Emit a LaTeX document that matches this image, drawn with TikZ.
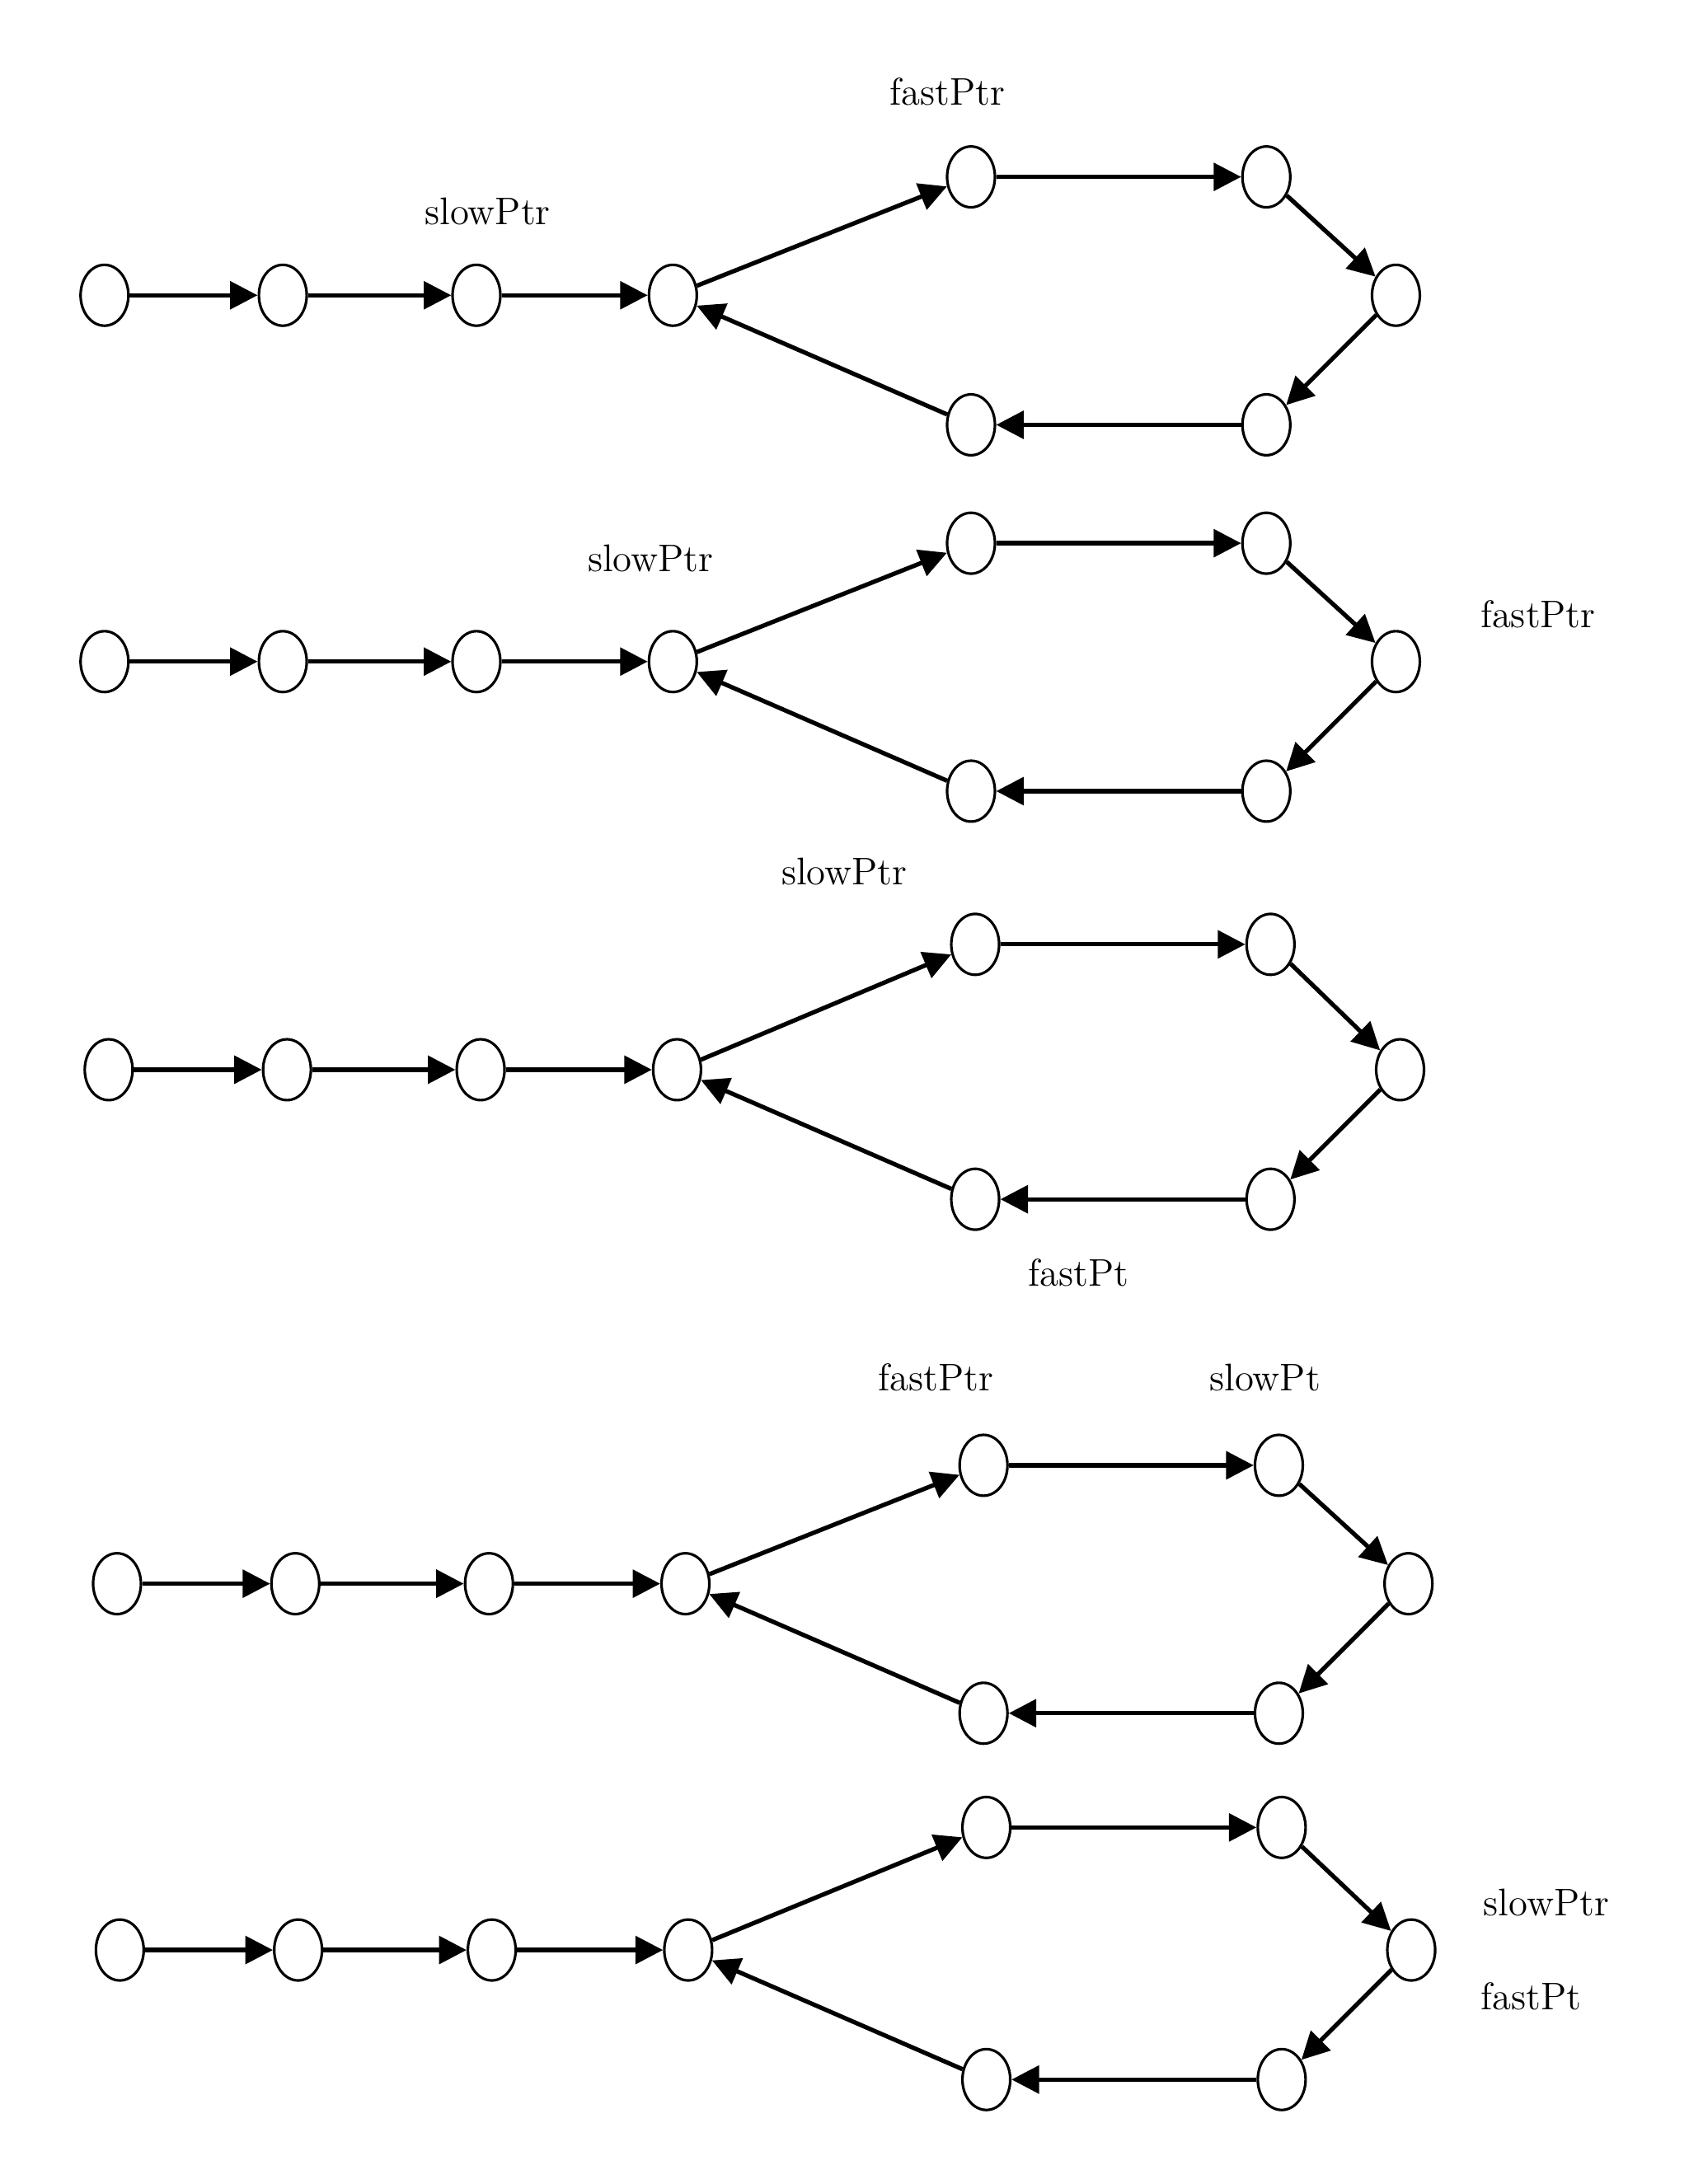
\documentclass[tikz,border=0pt]{standalone}
\usetikzlibrary{arrows.meta,shapes.geometric}
\tikzset{
  nd/.style={draw=black, line width=0.9pt, ellipse, minimum width=16.5pt, minimum height=21pt, inner sep=0pt},
  arr/.style={line width=1.5pt, -{Triangle[length=9.5pt,width=9.5pt]}},
  lab/.style={font=\fontsize{13.3}{16}\selectfont, inner sep=0pt}
}
\newcommand\listrow[4]{%
  \begin{scope}[shift={(#2,#3)}]
    \node[nd] (#1a) at (0,0) {};
    \node[nd] (#1b) at (128,0) {};
    \node[nd] (#1c) at (267,0) {};
    \node[nd] (#1d) at (408,0) {};
    \node[nd] (#1e) at (622,-#4) {};
    \node[nd] (#1f) at (834,-#4) {};
    \node[nd] (#1g) at (927,0) {};
    \node[nd] (#1h) at (834,93) {};
    \node[nd] (#1i) at (622,93) {};
  \end{scope}
  \draw[arr] (#1a) -- (#1b);
  \draw[arr] (#1b) -- (#1c);
  \draw[arr] (#1c) -- (#1d);
  \draw[arr] (#1d) -- (#1e);
  \draw[arr] (#1e) -- (#1f);
  \draw[arr] (#1f) -- (#1g);
  \draw[arr] (#1g) -- (#1h);
  \draw[arr] (#1h) -- (#1i);
  \draw[arr] (#1i) -- (#1d);
}
\begin{document}
\begin{tikzpicture}[x=0.016898cm, y=-0.016898cm]
  \useasboundingbox[fill=white] (0,0) rectangle (1212,1568);
  \listrow{p}{75}{212}{85}
  \listrow{q}{75}{475}{85}
  \listrow{s}{78}{768}{90}
  \listrow{u}{84}{1137}{85}
  \listrow{v}{86}{1400}{88}
  \node[lab] (l1) at (680,66) {fastPtr};
  \node[lab] (l2) at (350,152) {slowPtr};
  \node[lab] (l3) at (467,401) {slowPtr};
  \node[lab] (l4) at (1104,441) {fastPtr};
  \node[lab] (l5) at (606,626) {slowPtr};
  \node[lab] (l6) at (774,914) {fastPt};
  \node[lab] (l7) at (672,989) {fastPtr};
  \node[lab] (l8) at (908,989) {slowPt};
  \node[lab] (l9) at (1110,1366) {slowPtr};
  \node[lab] (l10) at (1099,1433) {fastPt};
\end{tikzpicture}
\end{document}
